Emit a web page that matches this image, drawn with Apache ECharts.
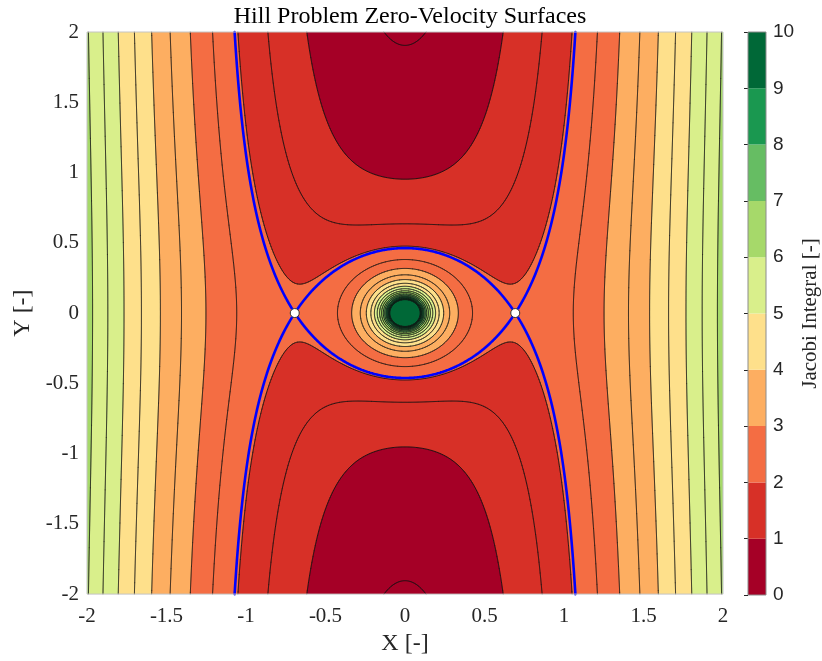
<!DOCTYPE html>
<html><head><meta charset="utf-8">
<script src="https://cdn.jsdelivr.net/npm/echarts@6/dist/echarts.min.js"></script>
<style>html,body{margin:0;padding:0;background:#fff}#c{width:822px;height:661px}</style>
</head><body><div id="c"></div>
<script>
// ---- tick labels / axes ----
const xTicks = [-2, -1.5, -1, -0.5, 0, 0.5, 1, 1.5, 2];
const yTicks = [-2, -1.5, -1, -0.5, 0, 0.5, 1, 1.5, 2];
const cbTicks = [0, 1, 2, 3, 4, 5, 6, 7, 8, 9, 10];
// ---- contour levels (equal spacing) ----
const levels = [0.525, 1.05, 1.575, 2.1, 2.625, 3.15, 3.675, 4.2, 4.725, 5.25,
                5.775, 6.3, 6.825, 7.35, 7.875, 8.4, 8.925, 9.45, 9.975, 10.5];
// ---- colormap (10 classes over colour limits 0..10) ----
const bandColors = ['#a50026', '#d73027', '#f46d43', '#fdae61', '#fee08b',
                    '#d9ef8b', '#a6d96a', '#66bd63', '#1a9850', '#006837'];
const colorLimits = [0, 10];
// ---- Lagrange points and their Jacobi value ----
const L1Points = [[-0.6934, 0], [0.6934, 0]];
const jacobiL1 = [2.1634];
// ---- sampled field: Hill-problem Jacobi integral on the plotted square ----
const N = 560;
const W = N + 1;
const x0d = xTicks[0], span = xTicks[xTicks.length - 1] - xTicks[0];
const h = span / N;
const Z = new Float64Array(W * W);
for (let j = 0; j < W; j++) {
  for (let i = 0; i < W; i++) {
    const x = x0d + i * h, y = yTicks[0] + j * h;
    const r = Math.sqrt(x * x + y * y);
    Z[j * W + i] = r < 1e-9 ? 1e6 : 1.5 * x * x + 1 / r;
  }
}

function fmt(p) { return p[0].toFixed(2) + ' ' + p[1].toFixed(2); }

function fillPath(L, api) {
  const out = [];
  const C = (x, y) => fmt(api.coord([x, y]));
  const rect = (i0, i1, ya, yb) => {
    const xa = x0d + i0 * h, xb = x0d + i1 * h;
    out.push('M' + C(xa, ya) + 'L' + C(xb, ya) + 'L' + C(xb, yb) + 'L' + C(xa, yb) + 'Z');
  };
  for (let j = 0; j < N; j++) {
    const ya = yTicks[0] + j * h, yb = ya + h;
    let run = -1;
    for (let i = 0; i < N; i++) {
      const a = Z[j * W + i], b = Z[j * W + i + 1], c = Z[(j + 1) * W + i + 1], d = Z[(j + 1) * W + i];
      const ia = a >= L, ib = b >= L, ic = c >= L, id = d >= L;
      if (ia && ib && ic && id) { if (run < 0) run = i; continue; }
      if (run >= 0) { rect(run, i, ya, yb); run = -1; }
      if (!ia && !ib && !ic && !id) continue;
      const xa = x0d + i * h, xb = xa + h;
      const cx = [xa, xb, xb, xa], cy = [ya, ya, yb, yb], v = [a, b, c, d], ins = [ia, ib, ic, id];
      let s = '';
      for (let k = 0; k < 4; k++) {
        const k2 = (k + 1) & 3;
        if (ins[k]) s += (s ? 'L' : 'M') + C(cx[k], cy[k]);
        if (ins[k] !== ins[k2]) {
          const t = (L - v[k]) / (v[k2] - v[k]);
          s += (s ? 'L' : 'M') + C(cx[k] + t * (cx[k2] - cx[k]), cy[k] + t * (cy[k2] - cy[k]));
        }
      }
      out.push(s + 'Z');
    }
    if (run >= 0) rect(run, N, ya, yb);
  }
  return out.join('');
}

function linePath(levelList, api) {
  const out = [];
  const C = (x, y) => fmt(api.coord([x, y]));
  for (const L of levelList) {
    for (let j = 0; j < N; j++) {
      const ya = yTicks[0] + j * h, yb = ya + h;
      for (let i = 0; i < N; i++) {
        const a = Z[j * W + i], b = Z[j * W + i + 1], c = Z[(j + 1) * W + i + 1], d = Z[(j + 1) * W + i];
        const ia = a >= L, ib = b >= L, ic = c >= L, id = d >= L;
        if (ia === ib && ib === ic && ic === id) continue;
        const xa = x0d + i * h, xb = xa + h;
        const cx = [xa, xb, xb, xa], cy = [ya, ya, yb, yb], v = [a, b, c, d], ins = [ia, ib, ic, id];
        const pts = [];
        for (let k = 0; k < 4; k++) {
          const k2 = (k + 1) & 3;
          if (ins[k] !== ins[k2]) {
            const t = (L - v[k]) / (v[k2] - v[k]);
            pts.push([cx[k] + t * (cx[k2] - cx[k]), cy[k] + t * (cy[k2] - cy[k])]);
          }
        }
        if (pts.length === 2) {
          out.push('M' + C(pts[0][0], pts[0][1]) + 'L' + C(pts[1][0], pts[1][1]));
        } else if (pts.length === 4) {
          const ctr = (a + b + c + d) / 4 >= L;
          if (ctr === ia) {
            out.push('M' + C(pts[0][0], pts[0][1]) + 'L' + C(pts[1][0], pts[1][1]));
            out.push('M' + C(pts[2][0], pts[2][1]) + 'L' + C(pts[3][0], pts[3][1]));
          } else {
            out.push('M' + C(pts[0][0], pts[0][1]) + 'L' + C(pts[3][0], pts[3][1]));
            out.push('M' + C(pts[1][0], pts[1][1]) + 'L' + C(pts[2][0], pts[2][1]));
          }
        }
      }
    }
  }
  return out.join('');
}

// fill layers: background band, then each level where the band colour changes
const fillLayers = [{ level: -Infinity, color: bandColors[0] }];
let prevIdx = 0;
for (const L of levels) {
  const idx = Math.min(bandColors.length - 1, Math.max(0, Math.floor((L - colorLimits[0]) / (colorLimits[1] - colorLimits[0]) * bandColors.length)));
  if (idx !== prevIdx) { fillLayers.push({ level: L, color: bandColors[idx] }); prevIdx = idx; }
}

const serif = '"Liberation Serif", "DejaVu Serif", serif';
const sans = '"Liberation Sans", Arial, sans-serif';
const tickColor = '#262626';

const chart = echarts.init(document.getElementById('c'), null, { renderer: 'canvas' });
const option = {
  animation: false,
  backgroundColor: '#fff',
  title: {
    text: 'Hill Problem Zero-Velocity Surfaces',
    left: 405, top: 0, textAlign: 'center',
    textStyle: { fontFamily: serif, fontWeight: 'normal', fontSize: 24, color: '#000' }
  },
  grid: [
    { left: 87, right: 99, top: 32, bottom: 66 },
    { left: 748, width: 20, top: 32, bottom: 66 }
  ],
  xAxis: [
    {
      type: 'value', gridIndex: 0, min: xTicks[0], max: xTicks[xTicks.length - 1], interval: xTicks[1] - xTicks[0],
      name: 'X [-]', nameLocation: 'middle', nameGap: 36,
      nameTextStyle: { fontFamily: serif, fontSize: 24, color: tickColor },
      axisLine: { show: false }, axisTick: { show: false }, splitLine: { show: false },
      axisLabel: { fontFamily: serif, fontSize: 21, color: tickColor, margin: 12 }
    },
    { type: 'value', gridIndex: 1, min: 0, max: 1, show: false }
  ],
  yAxis: [
    {
      type: 'value', gridIndex: 0, min: yTicks[0], max: yTicks[yTicks.length - 1], interval: yTicks[1] - yTicks[0],
      name: 'Y [-]', nameLocation: 'middle', nameGap: 50, nameRotate: 90,
      nameTextStyle: { fontFamily: serif, fontSize: 24, color: tickColor },
      axisLine: { show: false }, axisTick: { show: false }, splitLine: { show: false },
      axisLabel: { fontFamily: serif, fontSize: 21, color: tickColor, margin: 8 }
    },
    {
      type: 'value', gridIndex: 1, position: 'right', min: cbTicks[0], max: cbTicks[cbTicks.length - 1], interval: 1,
      name: 'Jacobi Integral [-]', nameLocation: 'middle', nameGap: 34, nameRotate: 90,
      nameTextStyle: { fontFamily: serif, fontSize: 21, color: tickColor },
      axisLine: { show: false }, splitLine: { show: false },
      axisTick: { show: true, inside: true, length: 4, lineStyle: { color: tickColor, width: 1 } },
      axisLabel: { fontFamily: sans, fontSize: 19, color: tickColor, margin: 7 }
    }
  ],
  series: [
    {
      type: 'custom', xAxisIndex: 0, yAxisIndex: 0, silent: true, z: 1,
      data: fillLayers.map((l, k) => [0, 0, k]),
      encode: { x: 0, y: 1 },
      renderItem: function (params, api) {
        const layer = fillLayers[params.dataIndex];
        let d;
        if (layer.level === -Infinity) {
          d = 'M' + fmt(api.coord([xTicks[0], yTicks[0]])) + 'L' + fmt(api.coord([xTicks[xTicks.length - 1], yTicks[0]])) +
              'L' + fmt(api.coord([xTicks[xTicks.length - 1], yTicks[yTicks.length - 1]])) + 'L' + fmt(api.coord([xTicks[0], yTicks[yTicks.length - 1]])) + 'Z';
        } else {
          d = fillPath(layer.level, api);
        }
        return { type: 'path', shape: { pathData: d }, style: { fill: layer.color, stroke: null } };
      }
    },
    {
      type: 'custom', xAxisIndex: 0, yAxisIndex: 0, silent: true, z: 2,
      data: [[0, 0]], encode: { x: 0, y: 1 },
      renderItem: function (params, api) {
        return { type: 'path', shape: { pathData: linePath(levels, api) },
                 style: { fill: null, stroke: '#111', lineWidth: 0.6, lineCap: 'round' } };
      }
    },
    {
      type: 'custom', xAxisIndex: 0, yAxisIndex: 0, silent: true, z: 3,
      data: [[0, 0]], encode: { x: 0, y: 1 },
      renderItem: function (params, api) {
        return { type: 'path', shape: { pathData: linePath(jacobiL1, api) },
                 style: { fill: null, stroke: '#0000ff', lineWidth: 2.6, lineCap: 'round', lineJoin: 'round' } };
      }
    },
    {
      type: 'scatter', xAxisIndex: 0, yAxisIndex: 0, silent: true, z: 4,
      data: L1Points, symbol: 'circle', symbolSize: 9,
      itemStyle: { color: '#ffffff', borderColor: '#333333', borderWidth: 1, opacity: 1 }
    },
    {
      type: 'custom', xAxisIndex: 0, yAxisIndex: 0, silent: true, z: 5,
      data: [[0, 0]], encode: { x: 0, y: 1 },
      renderItem: function (params, api) {
        const p0 = api.coord([xTicks[0], yTicks[yTicks.length - 1]]);
        const p1 = api.coord([xTicks[xTicks.length - 1], yTicks[0]]);
        return { type: 'rect', shape: { x: p0[0], y: p0[1], width: p1[0] - p0[0], height: p1[1] - p0[1] },
                 style: { fill: null, stroke: '#c4c4c4', lineWidth: 1 } };
      }
    },
    {
      type: 'custom', xAxisIndex: 1, yAxisIndex: 1, silent: true, z: 1,
      data: bandColors.map((c, k) => [0, k, k + 1]), encode: { x: 0, y: [1, 2] },
      renderItem: function (params, api) {
        const k = params.dataIndex;
        const lo = colorLimits[0] + k * (colorLimits[1] - colorLimits[0]) / bandColors.length;
        const hi = lo + (colorLimits[1] - colorLimits[0]) / bandColors.length;
        const p0 = api.coord([0, hi]);
        const p1 = api.coord([1, lo]);
        return { type: 'rect', shape: { x: p0[0], y: p0[1], width: p1[0] - p0[0], height: p1[1] - p0[1] },
                 style: { fill: bandColors[k], stroke: null } };
      }
    },
    {
      type: 'custom', xAxisIndex: 1, yAxisIndex: 1, silent: true, z: 2,
      data: [[0, 0]], encode: { x: 0, y: 1 },
      renderItem: function (params, api) {
        const p0 = api.coord([0, colorLimits[1]]);
        const p1 = api.coord([1, colorLimits[0]]);
        return { type: 'rect', shape: { x: p0[0], y: p0[1], width: p1[0] - p0[0], height: p1[1] - p0[1] },
                 style: { fill: null, stroke: '#8c8c8c', lineWidth: 1 } };
      }
    }
  ]
};
chart.setOption(option);
</script></body></html>
